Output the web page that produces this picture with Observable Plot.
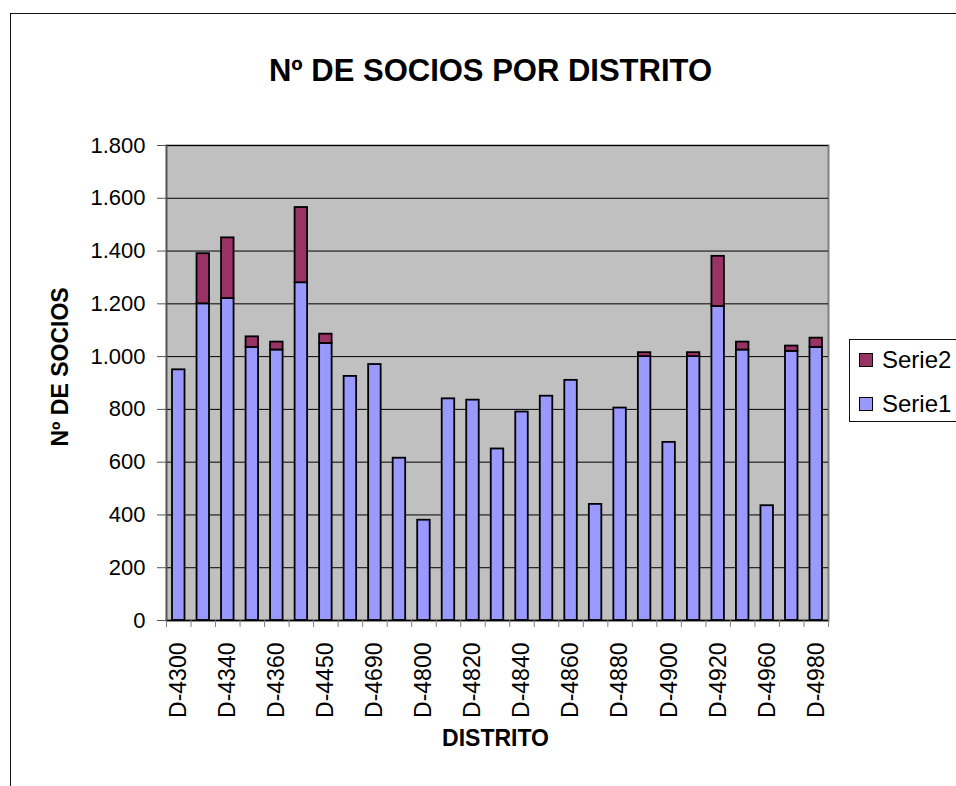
<!DOCTYPE html>
<html>
<head>
<meta charset="utf-8">
<script src="https://cdn.jsdelivr.net/npm/d3@7"></script>
<script src="https://cdn.jsdelivr.net/npm/@observablehq/plot@0.6"></script>
<style>
  html, body { margin: 0; padding: 0; background: #fff; }
  #wrap { position: relative; width: 956px; height: 786px; overflow: hidden; font-family: "Liberation Sans", Arial, sans-serif; }
  #border { position: absolute; left: 10px; top: 13px; width: 960px; height: 800px; border-left: 1.3px solid #111; border-top: 1.3px solid #111; pointer-events: none; }
  #legend { position: absolute; left: 849px; top: 339px; width: 130px; height: 83px; border: 1.3px solid #111; background: #fff; box-sizing: border-box; }
  .item { position: absolute; left: 9px; display: flex; align-items: center; font-size: 24px; color: #000; }
  .sw { width: 12px; height: 12px; border: 1.3px solid #000; margin-right: 9px; }
</style>
</head>
<body>
<div id="wrap"></div>
<script>
const title = "Nº DE SOCIOS POR DISTRITO";
const yLabel = "Nº DE SOCIOS";
const xLabel = "DISTRITO";
const districts = ["D-4300","D-4320","D-4340","D-4350","D-4360","D-4380","D-4450","D-4680","D-4690","D-4780","D-4800","D-4810","D-4820","D-4830","D-4840","D-4850","D-4860","D-4870","D-4880","D-4890","D-4900","D-4910","D-4920","D-4930","D-4960","D-4970","D-4980"];
const serie1 = [950,1200,1220,1035,1025,1280,1050,925,970,615,380,840,835,650,790,850,910,440,805,1000,675,1000,1190,1025,435,1020,1035];
const serie2 = [0,190,230,40,30,285,35,0,0,0,0,0,0,0,0,0,0,0,0,15,0,15,190,30,0,20,35];
const seriesNames = ["Serie1", "Serie2"];
const seriesColors = ["#9999FF", "#993366"];
const yTicks = [0,200,400,600,800,1000,1200,1400,1600,1800];
const labeledDistricts = districts.filter((d, i) => i % 2 === 0);

const rows = [];
districts.forEach((d, i) => {
  rows.push({distrito: d, serie: "Serie1", value: serie1[i]});
  if (serie2[i] > 0) rows.push({distrito: d, serie: "Serie2", value: serie2[i]});
});

const W = 956, H = 786, ML = 166, MR = 128, MT = 145, MB = 166;
const step = (W - ML - MR) / districts.length;
const barInset = (step - 12.5) / 2;
const fmt = d3.formatLocale({decimal: ",", thousands: ".", grouping: [3], currency: ["", "€"]}).format(",");

const chart = Plot.plot({
  width: W, height: H,
  marginLeft: ML, marginRight: MR, marginTop: MT, marginBottom: MB,
  style: {fontFamily: "'Liberation Sans', Arial, sans-serif", background: "transparent", color: "#000", overflow: "visible"},
  x: {domain: districts, padding: 0, round: false, axis: null},
  y: {domain: [0, 1800], axis: null},
  color: {domain: seriesNames, range: seriesColors},
  marks: [
    Plot.frame({fill: "#C0C0C0", stroke: "#808080", strokeWidth: 2}),
    Plot.gridY(yTicks.slice(1), {stroke: "#000", strokeOpacity: 1, strokeWidth: 1}),
    Plot.barY(rows, {x: "distrito", y: "value", fill: "serie", stroke: "#000", strokeWidth: 1.8, insetLeft: barInset, insetRight: barInset, order: seriesNames}),
    Plot.frame({anchor: "left", stroke: "#555", strokeWidth: 1.5}),
    Plot.ruleY([0], {stroke: "#000", strokeWidth: 1.5}),
    Plot.axisY({ticks: yTicks, tickSize: 9, tickPadding: 12, tickFormat: fmt, fontSize: 22, label: null, stroke: "#555"}),
    Plot.axisX({ticks: districts, tickSize: 7, tickFormat: () => "", dx: -step / 2, label: null, stroke: "#808080"}),
    Plot.axisX({ticks: districts.slice(-1), tickSize: 7, tickFormat: () => "", dx: step / 2, label: null, stroke: "#808080"}),
    Plot.axisX({ticks: labeledDistricts, tickSize: 0, tickPadding: 22, tickRotate: -90, fontSize: 23, label: null}),
    Plot.text([title], {frameAnchor: "top", dy: -87, dx: -7, fontSize: 31, fontWeight: "bold"}),
    Plot.text([yLabel], {frameAnchor: "left", textAnchor: "middle", rotate: -90, dx: -106, dy: -16, fontSize: 23, fontWeight: "bold"}),
    Plot.text([xLabel], {frameAnchor: "bottom", dy: 125, dx: -2, fontSize: 23, fontWeight: "bold"})
  ]
});

const wrap = document.getElementById("wrap");
chart.style.position = "absolute";
chart.style.left = "0px";
chart.style.top = "0px";
wrap.appendChild(chart);

const border = document.createElement("div");
border.id = "border";
wrap.appendChild(border);

const legend = document.createElement("div");
legend.id = "legend";
[1, 0].forEach((k, j) => {
  const item = document.createElement("div");
  item.className = "item";
  item.style.top = (j === 0 ? 6 : 50) + "px";
  const sw = document.createElement("div");
  sw.className = "sw";
  sw.style.background = seriesColors[k];
  const tx = document.createElement("span");
  tx.textContent = seriesNames[k];
  item.appendChild(sw);
  item.appendChild(tx);
  legend.appendChild(item);
});
wrap.appendChild(legend);
</script>
</body>
</html>
